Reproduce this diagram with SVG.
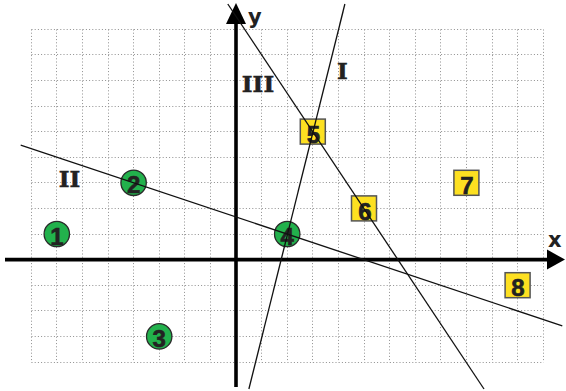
<svg xmlns="http://www.w3.org/2000/svg" width="566" height="391" viewBox="0 0 566 391">
<style>
.grid{stroke:#8f8f8f;stroke-width:1;stroke-dasharray:1 2.2;fill:none}
.axis{stroke:#000;stroke-width:3.6;fill:none}
.ln{stroke:#111;stroke-width:1.3;fill:none}
.pt{fill:#22b14c;stroke:#2a2a2a;stroke-width:1.3}
.sq{fill:#fde021;stroke:#555;stroke-width:1.5}
.num{font-family:"Liberation Sans",Arial,sans-serif;font-weight:bold;font-size:24px;fill:#222;stroke:#222;stroke-width:0.6;text-anchor:middle}
.rom{font-family:"DejaVu Serif",serif;font-weight:bold;font-size:23px;fill:#222;stroke:#222;stroke-width:0.5;text-anchor:middle}
.ax{font-family:"DejaVu Sans",sans-serif;font-weight:bold;font-size:21px;fill:#222}
</style>
<rect width="566" height="391" fill="#fff"/>
<g id="grid">
<path class="grid" d="M31.5 29.5V362.5M56.5 29.5V362.5M82.5 29.5V362.5M108.5 29.5V362.5M133.5 29.5V362.5M159.5 29.5V362.5M184.5 29.5V362.5M210.5 29.5V362.5M261.5 29.5V362.5M287.5 29.5V362.5M312.5 29.5V362.5M338.5 29.5V362.5M364.5 29.5V362.5M389.5 29.5V362.5M415.5 29.5V362.5M440.5 29.5V362.5M466.5 29.5V362.5M492.5 29.5V362.5M517.5 29.5V362.5M543.5 29.5V362.5"/>
<path class="grid" d="M31.5 29.5H543.5M31.5 54.5H543.5M31.5 80.5H543.5M31.5 106.5H543.5M31.5 131.5H543.5M31.5 157.5H543.5M31.5 182.5H543.5M31.5 208.5H543.5M31.5 234.5H543.5M31.5 285.5H543.5M31.5 310.5H543.5M31.5 336.5H543.5M31.5 362.5H543.5"/>
</g>
<g id="axes">
<path class="axis" d="M5 259.6H549"/>
<polygon points="547,249.6 565,259.6 547,269.6" fill="#000"/>
<path class="axis" d="M236 387V22"/>
<polygon points="226,24 236,3 246,24" fill="#000"/>
<text class="ax" x="248" y="24">y</text>
<text class="ax" x="548" y="247">x</text>
</g>
<g id="labels">
<text class="rom" x="258" y="92">III</text>
<text class="rom" x="342.5" y="79">I</text>
<text class="rom" x="69.5" y="187">II</text>
</g>
<g id="n1"><circle class="pt" cx="56.8" cy="234" r="12.7"/><text class="num" x="57" y="244.5">1</text></g>
<g id="n2"><circle class="pt" cx="133.6" cy="182.8" r="12.7"/><text class="num" x="133.6" y="193">2</text></g>
<g id="n3"><circle class="pt" cx="159.2" cy="336.4" r="12.7"/><text class="num" x="159.2" y="346.5">3</text></g>
<g id="n4"><circle class="pt" cx="287.2" cy="234" r="12.7"/><text class="num" x="287.2" y="244.5">4</text></g>
<g id="n5"><rect class="sq" x="300.3" y="119.1" width="25" height="25"/><text class="num" x="313.5" y="142.5">5</text></g>
<g id="n6"><rect class="sq" x="351.5" y="195.9" width="25" height="25"/><text class="num" x="365" y="219.5">6</text></g>
<g id="n7"><rect class="sq" x="453.9" y="170.3" width="25" height="25"/><text class="num" x="467" y="193.5">7</text></g>
<g id="n8"><rect class="sq" x="505.1" y="272.7" width="25" height="25"/><text class="num" x="518" y="296">8</text></g>
<g id="connectors">
<path id="lineI" class="ln" d="M248.9 389L344.9 4"/>
<path id="lineIII" class="ln" d="M227.8 4L484 389"/>
<path id="lineII" class="ln" d="M20.7 145.2L562.3 325.8"/>
</g>
</svg>
